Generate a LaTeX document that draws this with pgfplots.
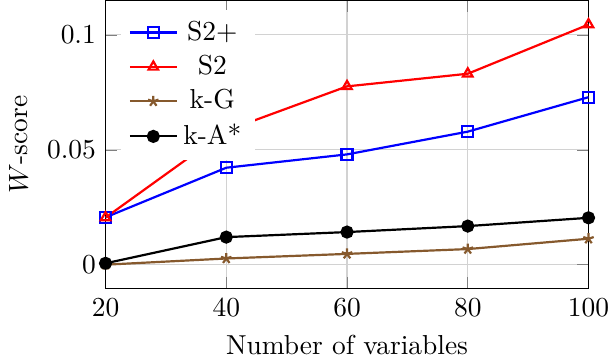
\documentclass[border={0pt 0pt -3pt 0pt}]{standalone}
\usepackage{pgfplots}
\pgfplotsset{compat=1.18}
\begin{document}
\begin{tikzpicture}
\begin{axis}[
    scale only axis,
    width=176pt, height=105pt,
    xmin=20, xmax=100,
    enlarge x limits=false,
    enlarge y limits=0.1,
    xtick={20,40,60,80,100},
    ytick={0,0.05,0.1},
    yticklabel style={/pgf/number format/fixed},
    xlabel={Number of variables},
    ylabel={$W$-score},
    grid=major,
    grid style={gray!35},
    legend pos=north west,
    legend cell align=center,
    legend style={draw=none, fill=white},
]
\addplot[blue, thick, mark=square, mark options={solid}] coordinates {
    (20,0.0206) (40,0.0422) (60,0.0480) (80,0.0579) (100,0.0729)
};
\addlegendentry{S2+}
\addplot[red, thick, mark=triangle, mark options={solid}] coordinates {
    (20,0.0205) (40,0.0583) (60,0.0776) (80,0.0831) (100,0.1045)
};
\addlegendentry{S2}
\addplot[brown!70!black, thick, mark=star, mark options={solid}] coordinates {
    (20,0.0000) (40,0.0027) (60,0.0047) (80,0.0068) (100,0.0113)
};
\addlegendentry{k-G}
\addplot[black, thick, mark=*, mark options={solid}] coordinates {
    (20,0.0006) (40,0.0120) (60,0.0142) (80,0.0168) (100,0.0204)
};
\addlegendentry{k-A*}
\end{axis}
\end{tikzpicture}
\end{document}
